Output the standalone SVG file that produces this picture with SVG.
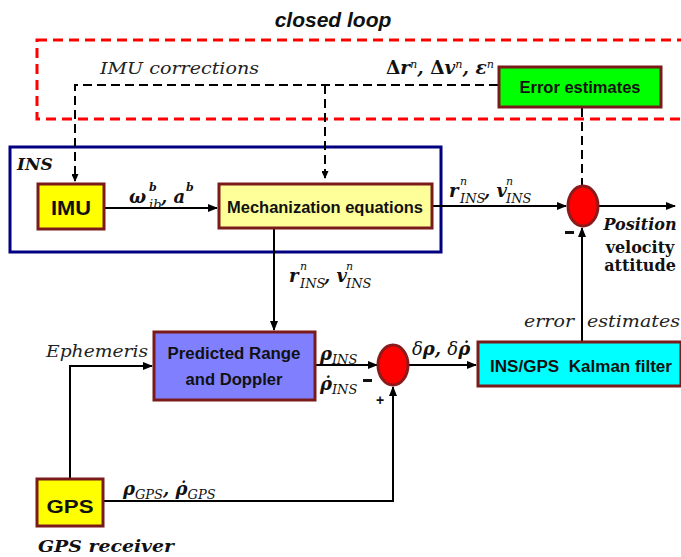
<svg xmlns="http://www.w3.org/2000/svg" width="681" height="557" viewBox="0 0 681 557">
  <defs>
    <marker id="arr" markerWidth="10" markerHeight="8" refX="9" refY="4" orient="auto" markerUnits="userSpaceOnUse">
      <path d="M0,0 L10,4 L0,8 z" fill="#000"/>
    </marker>
    <marker id="arrS" markerWidth="8" markerHeight="7" refX="7" refY="3.5" orient="auto" markerUnits="userSpaceOnUse">
      <path d="M0,0 L8,3.5 L0,7 z" fill="#000"/>
    </marker>
    <style>
      .blk { fill: none; stroke: #000; stroke-width: 2; }
      .dash { fill: none; stroke: #000; stroke-width: 2; stroke-dasharray: 9 5; }
      .box { stroke: #7a1a1a; stroke-width: 3; }
      .lbl { font-family: "Liberation Sans", Arial, sans-serif; font-weight: bold; fill: #111; }
      .math { font-family: "DejaVu Serif", "Liberation Serif", serif; font-style: italic; font-weight: bold; fill: #111; font-size: 18px; }
      .sup { font-family: "DejaVu Serif", "Liberation Serif", serif; font-style: italic; fill: #111; font-size: 11px; }
      .sub { font-family: "DejaVu Serif", "Liberation Serif", serif; font-style: italic; fill: #111; font-size: 13px; }
      .it { font-family: "DejaVu Serif", "Liberation Serif", serif; font-style: italic; fill: #222; }
      .out { font-family: "DejaVu Serif", "Liberation Serif", serif; font-weight: bold; fill: #111; font-size: 16px; }
      .sum { fill: #ff0000; stroke: #8b1a1a; stroke-width: 3; }
    </style>
  </defs>

  <rect width="681" height="557" fill="#fff"/>

  <!-- closed loop region -->
  <g id="closed-loop">
    <text x="333" y="27" text-anchor="middle" font-family="Liberation Sans, Arial, sans-serif" font-weight="bold" font-style="italic" font-size="21" fill="#111">closed loop</text>
    <rect x="37" y="40" width="650" height="79" fill="none" stroke="#ff0000" stroke-width="3" stroke-dasharray="10 6"/>
  </g>

  <!-- INS container -->
  <g id="ins">
    <rect x="10" y="147" width="431" height="105" fill="none" stroke="#000080" stroke-width="3"/>
    <text x="17" y="170" font-family="DejaVu Serif, serif" font-weight="bold" font-style="italic" font-size="17" fill="#111">INS</text>
  </g>

  <!-- connectors -->
  <g id="connectors">
    <!-- correction feedback (dashed) -->
    <path class="dash" d="M498,85 H75 V181" marker-end="url(#arrS)"/>
    <path class="dash" d="M325,85 V178" marker-end="url(#arrS)"/>
    <path class="dash" d="M582,108 V185"/>
    <!-- INS path -->
    <path class="blk" d="M105,208 H217" marker-end="url(#arr)"/>
    <path class="blk" d="M433,206 H566" marker-end="url(#arr)"/>
    <path class="blk" d="M599,206 H675" marker-end="url(#arr)"/>
    <path class="blk" d="M274,228 V330" marker-end="url(#arr)"/>
    <!-- GPS path -->
    <path class="blk" d="M70,479 V366 H152" marker-end="url(#arr)"/>
    <path class="blk" d="M315,365 H377" marker-end="url(#arr)"/>
    <path class="blk" d="M408,365 H476" marker-end="url(#arr)"/>
    <path class="blk" d="M103,501 H393 V387" marker-end="url(#arr)"/>
    <path class="blk" d="M582,342 V228" marker-end="url(#arr)"/>
  </g>

  <!-- connector labels -->
  <g id="labels">
    <text class="it" x="100" y="74" font-size="17" textLength="159" lengthAdjust="spacingAndGlyphs">IMU corrections</text>
    <text class="math" x="386" y="74" font-size="16" textLength="108" lengthAdjust="spacingAndGlyphs"><tspan font-style="normal">Δ</tspan>r<tspan dy="-6" font-size="11" font-weight="normal">n</tspan><tspan dy="6">, </tspan><tspan font-style="normal">Δ</tspan>v<tspan dy="-6" font-size="11" font-weight="normal">n</tspan><tspan dy="6">, ε</tspan><tspan dy="-6" font-size="11" font-weight="normal">n</tspan></text>

    <!-- angular rate and specific force -->
    <text class="math" x="129" y="203">ω</text>
    <text class="sup" x="149" y="191" font-weight="bold">b</text>
    <text class="sub" x="149" y="209">ib</text>
    <text class="math" x="161" y="203">, a</text>
    <text class="sup" x="186" y="191" font-weight="bold">b</text>

    <!-- INS position / velocity to summing node -->
    <text class="math" x="449" y="197">r</text>
    <text class="sup" x="460" y="185">n</text>
    <text class="sub" x="460" y="203">INS</text>
    <text class="math" x="484" y="197">, v</text>
    <text class="sup" x="506" y="185">n</text>
    <text class="sub" x="506" y="203">INS</text>

    <!-- INS position / velocity to range prediction -->
    <text class="math" x="289" y="282">r</text>
    <text class="sup" x="300" y="270">n</text>
    <text class="sub" x="300" y="288">INS</text>
    <text class="math" x="324" y="282">, v</text>
    <text class="sup" x="346" y="270">n</text>
    <text class="sub" x="346" y="288">INS</text>

    <text class="out" x="640" y="230" text-anchor="middle" font-style="italic">Position</text>
    <text class="out" x="640" y="253" text-anchor="middle">velocity</text>
    <text class="out" x="640" y="271" text-anchor="middle">attitude</text>
    <rect x="565" y="231" width="9" height="3" fill="#111"/>

    <text class="it" x="524" y="327" font-size="17" textLength="50" lengthAdjust="spacingAndGlyphs">error</text>
    <text class="it" x="587" y="327" font-size="17" textLength="93" lengthAdjust="spacingAndGlyphs">estimates</text>

    <text class="it" x="46" y="357" font-size="17" textLength="102" lengthAdjust="spacingAndGlyphs">Ephemeris</text>

    <text class="math" x="320" y="360">ρ<tspan dy="4" font-size="13" font-weight="normal">INS</tspan></text>
    <text class="math" x="320" y="390">ρ̇<tspan dy="4" font-size="13" font-weight="normal">INS</tspan></text>
    <rect x="363" y="379" width="9" height="3" fill="#111"/>
    <text x="380" y="405" text-anchor="middle" font-family="Liberation Sans, sans-serif" font-weight="bold" font-size="14" fill="#111">+</text>

    <text class="math" x="412" y="355"><tspan font-weight="normal">δ</tspan>ρ, <tspan font-weight="normal">δ</tspan>ρ̇</text>

    <text class="math" x="123" y="495">ρ<tspan dy="4" font-size="13" font-weight="normal">GPS</tspan><tspan dy="-4">, ρ̇</tspan><tspan dy="4" font-size="13" font-weight="normal">GPS</tspan></text>

    <text x="38" y="552" font-family="DejaVu Serif, serif" font-weight="bold" font-style="italic" font-size="16" fill="#111" textLength="136" lengthAdjust="spacingAndGlyphs">GPS receiver</text>
  </g>

  <!-- nodes -->
  <g id="error-estimates">
    <rect class="box" x="499" y="67" width="162" height="40" fill="#00ff00"/>
    <text class="lbl" x="580" y="93" text-anchor="middle" font-size="16" textLength="121" lengthAdjust="spacingAndGlyphs">Error estimates</text>
  </g>

  <g id="imu">
    <rect class="box" x="38" y="184" width="66" height="45" fill="#ffff00"/>
    <text class="lbl" x="71" y="215" text-anchor="middle" font-size="20" textLength="40" lengthAdjust="spacingAndGlyphs">IMU</text>
  </g>

  <g id="mechanization">
    <rect class="box" x="219" y="184" width="213" height="44" fill="#ffff99"/>
    <text class="lbl" x="325" y="213" text-anchor="middle" font-size="16" textLength="196" lengthAdjust="spacingAndGlyphs">Mechanization equations</text>
  </g>

  <g id="sum-position">
    <ellipse class="sum" cx="583" cy="206" rx="15" ry="20"/>
  </g>

  <g id="predicted-range">
    <rect class="box" x="154" y="332" width="161" height="68" fill="#8080ff"/>
    <text class="lbl" x="234" y="359" text-anchor="middle" font-size="16" textLength="133" lengthAdjust="spacingAndGlyphs">Predicted Range</text>
    <text class="lbl" x="234" y="385" text-anchor="middle" font-size="16" textLength="97" lengthAdjust="spacingAndGlyphs">and Doppler</text>
  </g>

  <g id="sum-range">
    <ellipse class="sum" cx="393" cy="365" rx="15" ry="20"/>
  </g>

  <g id="kalman-filter">
    <rect class="box" x="478" y="342" width="203" height="44" fill="#00ffff"/>
    <text class="lbl" x="581" y="372" text-anchor="middle" font-size="16" textLength="182" lengthAdjust="spacingAndGlyphs" xml:space="preserve">INS/GPS  Kalman filter</text>
  </g>

  <g id="gps">
    <rect class="box" x="37" y="479" width="66" height="47" fill="#ffff00"/>
    <text class="lbl" x="70" y="513" text-anchor="middle" font-size="19" textLength="47" lengthAdjust="spacingAndGlyphs">GPS</text>
  </g>
</svg>
